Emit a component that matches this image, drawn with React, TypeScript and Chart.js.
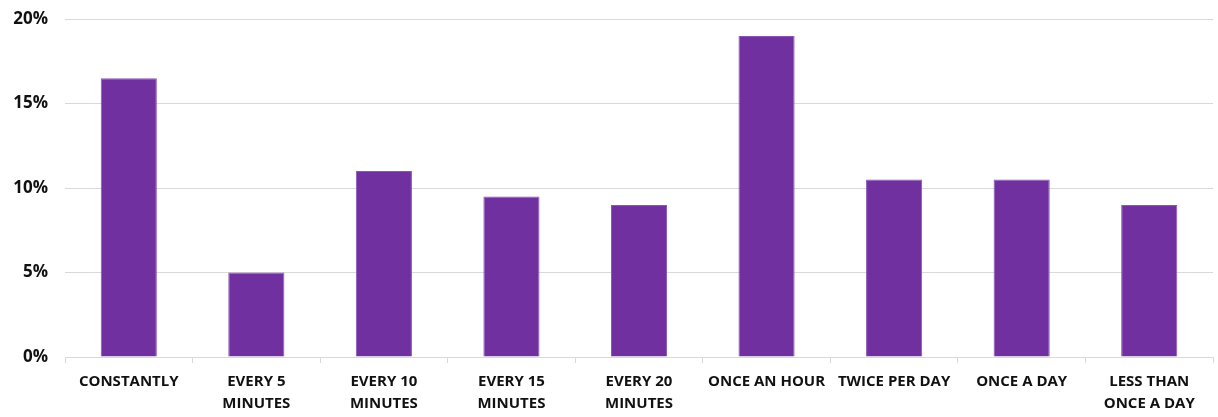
import React, { useEffect, useRef } from "react";
import { Chart, registerables } from "chart.js";

Chart.register(...registerables);

const categories: string[][] = [
  ["CONSTANTLY"],
  ["EVERY 5", "MINUTES"],
  ["EVERY 10", "MINUTES"],
  ["EVERY 15", "MINUTES"],
  ["EVERY 20", "MINUTES"],
  ["ONCE AN HOUR"],
  ["TWICE PER DAY"],
  ["ONCE A DAY"],
  ["LESS THAN", "ONCE A DAY"],
];

const values: number[] = [16.5, 5, 11, 9.5, 9, 19, 10.5, 10.5, 9];

const yTicks: number[] = [0, 5, 10, 15, 20];

export default function App() {
  const ref = useRef<HTMLCanvasElement | null>(null);

  useEffect(() => {
    document.body.style.margin = "0";
    if (!ref.current) return;
    const chart = new Chart(ref.current, {
      type: "bar",
      data: {
        labels: categories,
        datasets: [
          {
            data: values,
            backgroundColor: "#7030A0",
            borderColor: "#8a55b5",
            borderWidth: 1,
            categoryPercentage: 1,
            barPercentage: 0.44,
          },
        ],
      },
      options: {
        animation: false,
        responsive: false,
        maintainAspectRatio: false,
        layout: { padding: { top: 0, right: 5, left: 0, bottom: 0 } },
        plugins: {
          legend: { display: false },
          tooltip: { enabled: false },
        },
        scales: {
          x: {
            grid: {
              display: true,
              offset: true,
              drawOnChartArea: false,
              drawTicks: true,
              tickLength: 6,
              color: "#d9d9d9",
            },
            border: { display: true, color: "#d9d9d9", width: 1 },
            ticks: {
              color: "#111111",
              font: { family: "'Open Sans', sans-serif", weight: "bold", size: 15, lineHeight: 1.47 },
              maxRotation: 0,
              minRotation: 0,
              autoSkip: false,
              padding: 8,
            },
            afterFit: (s: any) => {
              s.height = 60;
            },
          },
          y: {
            min: 0,
            max: 20,
            afterBuildTicks: (s: any) => {
              s.ticks = yTicks.map((v) => ({ value: v }));
            },
            grid: {
              color: "#d9d9d9",
              drawTicks: false,
            },
            border: { display: false },
            ticks: {
              color: "#111111",
              font: { family: "'Open Sans', sans-serif", weight: "bold", size: 17 },
              padding: 17,
              callback: (v: any) => v + "%",
            },
            afterFit: (s: any) => {
              s.width = 65;
              s.paddingTop = 19;
              s.paddingBottom = 0;
            },
          },
        },
      },
    });
    return () => chart.destroy();
  }, []);

  return (
    <div style={{ width: 1218, height: 417 }}>
      <canvas ref={ref} width={1218} height={417} style={{ width: 1218, height: 417 }} />
    </div>
  );
}
